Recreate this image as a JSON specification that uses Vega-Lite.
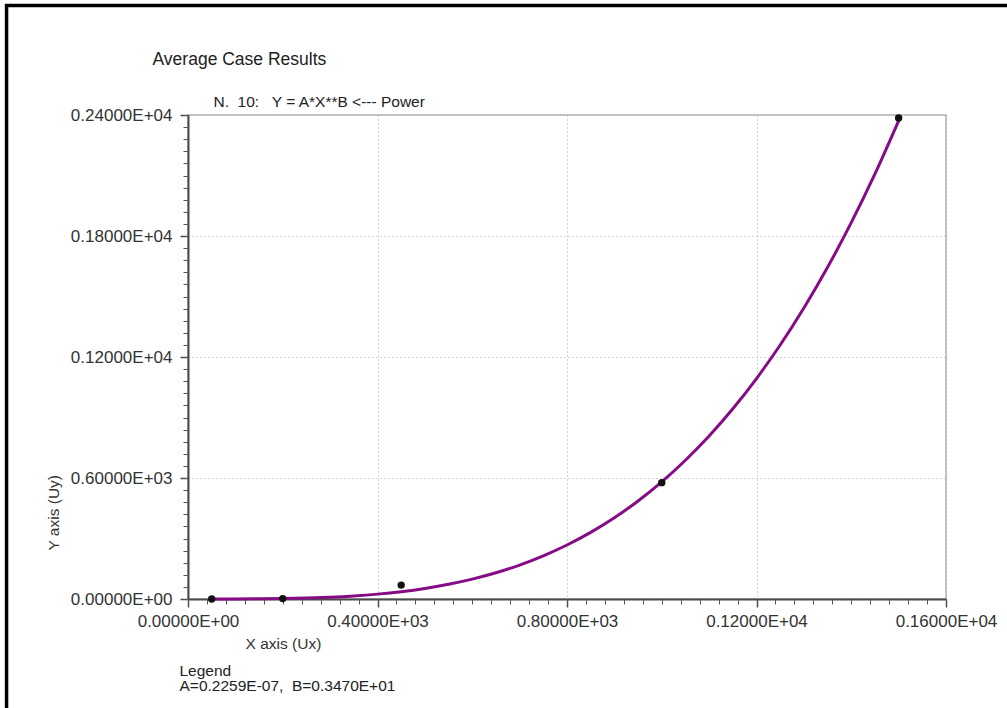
{
  "$schema": "https://vega.github.io/schema/vega-lite/v6.json",
  "width": 758,
  "height": 484,
  "autosize": {"type": "none"},
  "padding": {"left": 188, "top": 115, "right": 61, "bottom": 109},
  "background": "white",
  "config": {
    "view": {"stroke": "#b3b3b3", "strokeWidth": 1.5},
    "font": "Liberation Sans"
  },
  "datasets": {
    "curve": [
      {"x": 50, "y": 0.02}, {"x": 100, "y": 0.2}, {"x": 150, "y": 0.8}, {"x": 200, "y": 2.2},
      {"x": 250, "y": 4.7}, {"x": 300, "y": 8.9}, {"x": 350, "y": 15.2}, {"x": 400, "y": 24.2},
      {"x": 450, "y": 36.4}, {"x": 500, "y": 52.4}, {"x": 550, "y": 73.0}, {"x": 600, "y": 98.7},
      {"x": 650, "y": 130.2}, {"x": 700, "y": 168.4}, {"x": 750, "y": 214.0}, {"x": 800, "y": 267.7},
      {"x": 850, "y": 330.3}, {"x": 900, "y": 402.8}, {"x": 950, "y": 486.0}, {"x": 1000, "y": 580.6},
      {"x": 1050, "y": 687.9}, {"x": 1100, "y": 808.3}, {"x": 1150, "y": 943.0}, {"x": 1200, "y": 1093.1},
      {"x": 1250, "y": 1259.5}, {"x": 1300, "y": 1443.2}, {"x": 1350, "y": 1645.0}, {"x": 1400, "y": 1866.2},
      {"x": 1450, "y": 2107.7}, {"x": 1500, "y": 2371.4}
    ],
    "pts": [
      {"x": 50, "y": 0}, {"x": 200, "y": 2}, {"x": 450, "y": 69}, {"x": 1000, "y": 577}, {"x": 1500, "y": 2385}
    ],
    "one": [{}]
  },
  "resolve": {"axis": {"x": "independent", "y": "independent"}},
  "layer": [
    {
      "data": {"name": "curve"},
      "mark": {"type": "line", "color": "#850c85", "strokeWidth": 3, "interpolate": "monotone"},
      "encoding": {
        "x": {
          "field": "x", "type": "quantitative",
          "scale": {"domain": [0, 1600], "nice": false, "zero": false},
          "axis": {
            "orient": "bottom",
            "values": [0, 400, 800, 1200, 1600],
            "grid": true, "gridColor": "#a8a8a8", "gridDash": [1, 3], "gridWidth": 1,
            "domainColor": "#4a4a4a", "domainWidth": 2,
            "tickColor": "#4a4a4a", "tickSize": 8, "tickWidth": 1.5,
            "labelFont": "Liberation Sans", "labelFontSize": 17, "labelColor": "#333",
            "labelPadding": 6, "labelFlush": false, "labelOverlap": false,
            "labelExpr": "datum.value == 0 ? '0.00000E+00' : format(datum.value / pow(10, floor(log(datum.value) / LN10) + 1), '.5f') + 'E+' + format(floor(log(datum.value) / LN10) + 1, '02d')",
            "title": "X axis (Ux)",
            "titleFont": "Liberation Sans", "titleFontSize": 15.5, "titleFontWeight": "normal", "titleColor": "#333",
            "titleX": 95, "titleY": 49, "titleAlign": "center", "titleBaseline": "alphabetic", "titleAngle": 0
          }
        },
        "y": {
          "field": "y", "type": "quantitative",
          "scale": {"domain": [0, 2400], "nice": false, "zero": false},
          "axis": {
            "orient": "left",
            "values": [0, 600, 1200, 1800, 2400],
            "grid": true, "gridColor": "#a8a8a8", "gridDash": [1, 3], "gridWidth": 1,
            "domainColor": "#4a4a4a", "domainWidth": 2,
            "tickColor": "#4a4a4a", "tickSize": 8, "tickWidth": 1.5,
            "labelFont": "Liberation Sans", "labelFontSize": 17, "labelColor": "#333",
            "labelPadding": 8, "labelFlush": false, "labelOverlap": false,
            "labelExpr": "datum.value == 0 ? '0.00000E+00' : format(datum.value / pow(10, floor(log(datum.value) / LN10) + 1), '.5f') + 'E+' + format(floor(log(datum.value) / LN10) + 1, '02d')",
            "title": "Y axis (Uy)",
            "titleFont": "Liberation Sans", "titleFontSize": 15.5, "titleFontWeight": "normal", "titleColor": "#333",
            "titleX": -130, "titleY": 435, "titleAlign": "left", "titleBaseline": "alphabetic", "titleAngle": 270
          }
        }
      }
    },
    {
      "data": {"name": "pts"},
      "mark": {"type": "point", "filled": true, "color": "#111", "opacity": 1, "size": 55},
      "encoding": {
        "x": {
          "field": "x", "type": "quantitative",
          "axis": {
            "orient": "bottom",
            "values": [0, 40, 80, 120, 160, 200, 240, 280, 320, 360, 400, 440, 480, 520, 560, 600, 640, 680, 720, 760, 800, 840, 880, 920, 960, 1000, 1040, 1080, 1120, 1160, 1200, 1240, 1280, 1320, 1360, 1400, 1440, 1480, 1520, 1560, 1600],
            "grid": false, "domain": false, "labels": false,
            "tickColor": "#555", "tickSize": 5, "tickWidth": 1, "title": null
          }
        },
        "y": {
          "field": "y", "type": "quantitative",
          "axis": {
            "orient": "left",
            "values": [0, 60, 120, 180, 240, 300, 360, 420, 480, 540, 600, 660, 720, 780, 840, 900, 960, 1020, 1080, 1140, 1200, 1260, 1320, 1380, 1440, 1500, 1560, 1620, 1680, 1740, 1800, 1860, 1920, 1980, 2040, 2100, 2160, 2220, 2280, 2340, 2400],
            "grid": false, "domain": false, "labels": false,
            "tickColor": "#555", "tickSize": 5, "tickWidth": 1, "title": null
          }
        }
      }
    },
    {
      "data": {"name": "pts"},
      "mark": {"type": "point", "opacity": 0},
      "encoding": {
        "x": {
          "field": "x", "type": "quantitative",
          "axis": {
            "orient": "top", "grid": false, "domain": false, "labels": false, "ticks": false,
            "title": "N.\u00a0 10:\u00a0\u00a0 Y = A*X**B <--- Power",
            "titleFont": "Liberation Sans", "titleFontSize": 15.5, "titleFontWeight": "normal", "titleColor": "#222",
            "titleX": 25, "titleY": -9, "titleAlign": "left", "titleBaseline": "alphabetic", "titleAngle": 0
          }
        },
        "y": {"field": "y", "type": "quantitative", "axis": null}
      }
    },
    {
      "data": {"name": "pts"},
      "mark": {"type": "point", "opacity": 0},
      "encoding": {
        "x": {
          "field": "x", "type": "quantitative",
          "axis": {
            "orient": "top", "grid": false, "domain": false, "labels": false, "ticks": false,
            "title": "Average Case Results",
            "titleFont": "Liberation Sans", "titleFontSize": 17.5, "titleFontWeight": "normal", "titleColor": "#222",
            "titleX": -36, "titleY": -51, "titleAlign": "left", "titleBaseline": "alphabetic", "titleAngle": 0
          }
        },
        "y": {"field": "y", "type": "quantitative", "axis": null}
      }
    },
    {
      "data": {"name": "pts"},
      "mark": {"type": "point", "opacity": 0},
      "encoding": {
        "x": {
          "field": "x", "type": "quantitative",
          "axis": {
            "orient": "bottom", "grid": false, "domain": false, "labels": false, "ticks": false,
            "title": ["Legend", "A=0.2259E-07,\u00a0 B=0.3470E+01"],
            "titleFont": "Liberation Sans", "titleFontSize": 15.5, "titleFontWeight": "normal", "titleColor": "#222",
            "titleLineHeight": 15,
            "titleX": -9, "titleY": 76, "titleAlign": "left", "titleBaseline": "alphabetic", "titleAngle": 0
          }
        },
        "y": {"field": "y", "type": "quantitative", "axis": null}
      }
    },
    {
      "data": {"name": "one"},
      "mark": {"type": "rule", "color": "black", "strokeWidth": 3.5},
      "encoding": {
        "x": {"datum": -383, "type": "quantitative", "axis": null},
        "y": {"datum": 2950, "type": "quantitative", "axis": null},
        "y2": {"datum": -600}
      }
    },
    {
      "data": {"name": "one"},
      "mark": {"type": "rule", "color": "black", "strokeWidth": 3.5},
      "encoding": {
        "x": {"datum": -386, "type": "quantitative", "axis": null},
        "x2": {"datum": 1750},
        "y": {"datum": 2943, "type": "quantitative", "axis": null}
      }
    }
  ]
}
